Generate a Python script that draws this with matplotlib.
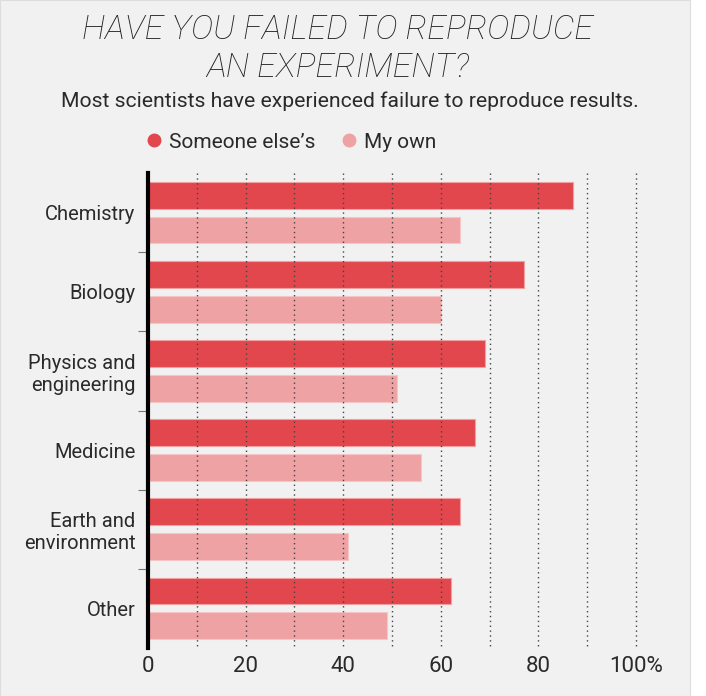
import matplotlib
matplotlib.use("Agg")
import matplotlib.pyplot as plt
from matplotlib.patches import Rectangle
from matplotlib.lines import Line2D
import numpy as np

categories = ["Chemistry", "Biology", "Physics and\nengineering", "Medicine",
              "Earth and\nenvironment", "Other"]
someone_else = [87, 77, 69, 67, 64, 62]
my_own = [64, 60, 51, 56, 41, 49]
series_names = ["Someone else\u2019s", "My own"]
x_ticks = [0, 20, 40, 60, 80, 100]
x_tick_labels = ["0", "20", "40", "60", "80", "100%"]

plt.rcParams["font.family"] = ["Roboto", "DejaVu Sans"]

red = "#e2474d"
pink = "#eea2a4"
bg = "#f1f1f1"
text_col = "#2a2a2a"

fig = plt.figure(figsize=(7.06, 6.96), dpi=100, facecolor="white")
fig.patches.append(Rectangle((0, 0), 690 / 706, 1, transform=fig.transFigure,
                             facecolor=bg, edgecolor="#dddddd", lw=0.8, zorder=-10))

ax = fig.add_axes([148 / 706, 1 - 648 / 696, (636 - 148) / 706, (648 - 173) / 696])
ax.set_facecolor("none")

y = np.arange(len(categories))
h = 0.34
off = 0.22
ax.barh(y - off, someone_else, height=h, color=red, edgecolor="#f0a0a0", lw=0.8, zorder=2)
ax.barh(y + off, my_own, height=h, color=pink, edgecolor="#f6c6c6", lw=0.8, zorder=2)

ax.vlines(np.arange(10, 101, 10), -0.5, len(categories) - 0.5, colors="#444444",
          linestyles=(0, (1, 2.5)), lw=1.0, zorder=3, clip_on=False)

ax.set_xlim(0, 100)
ax.set_ylim(len(categories) - 0.5, -0.5)

for s in ["top", "right", "bottom"]:
    ax.spines[s].set_visible(False)
ax.spines["left"].set_linewidth(3)
ax.spines["left"].set_color("black")
ax.spines["left"].set_zorder(4)

ax.set_yticks(y)
ax.set_yticklabels(categories, fontsize=14.5, color=text_col, linespacing=1.2)
ax.tick_params(axis="y", length=0, pad=9)
ax.set_yticks(np.arange(0.5, len(categories) - 1, 1), minor=True)
ax.tick_params(axis="y", which="minor", length=7, width=0.8, color="#777777")

ax.set_xticks(x_ticks)
ax.set_xticklabels(x_tick_labels, fontsize=16, color=text_col)
ax.tick_params(axis="x", length=0, pad=6)

fig.text(338 / 706, 1 - 30 / 696, "HAVE YOU FAILED TO REPRODUCE",
         ha="center", va="center", fontsize=24.5, style="italic", weight="light",
         color="#222222")
fig.text(338 / 706, 1 - 68 / 696, "AN EXPERIMENT?",
         ha="center", va="center", fontsize=24.5, style="italic", weight="light",
         color="#222222")
fig.text(350 / 706, 1 - 101 / 696,
         "Most scientists have experienced failure to reproduce results.",
         ha="center", va="center", fontsize=15.2, color=text_col)

handles = [Line2D([], [], marker="o", ls="", color=red, markersize=9),
           Line2D([], [], marker="o", ls="", color=pink, markersize=9)]
fig.legend(handles, series_names, loc="center", bbox_to_anchor=(290 / 706, 1 - 142 / 696),
           ncol=2, frameon=False, fontsize=15, handletextpad=0.2, columnspacing=1.15,
           labelcolor=text_col, handlelength=1.0)

fig.savefig("out.png", dpi=100, facecolor="white")
